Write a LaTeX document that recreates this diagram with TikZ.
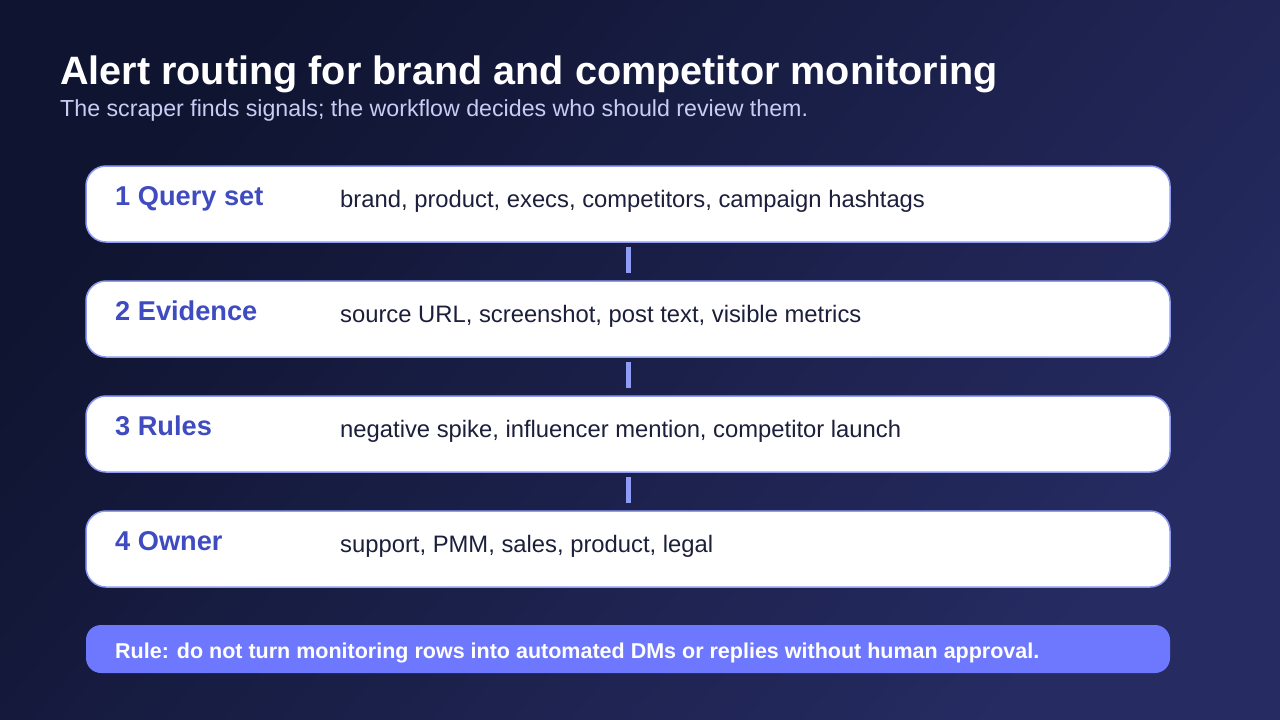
\documentclass[tikz,border=0pt]{standalone}
\usepackage{fontspec}
\setmainfont{Liberation Sans}
\definecolor{bgA}{HTML}{0F1430}
\definecolor{bgB}{HTML}{262B62}
\definecolor{edge}{HTML}{8F9CF5}
\definecolor{lab}{HTML}{3F4BC0}
\definecolor{desc}{HTML}{1B1F3B}
\definecolor{sub}{HTML}{C8CDF5}
\definecolor{rulefill}{HTML}{6E78FF}
\tikzset{
  stagebox/.style={draw=edge, line width=1.5pt, fill=white, rounded corners=20pt},
  stagelab/.style={anchor=base west, text=lab, font=\fontsize{27.2}{32}\selectfont\bfseries, inner sep=0pt},
  stagedesc/.style={anchor=base west, text=desc, font=\fontsize{23.8}{28}\selectfont, inner sep=0pt},
  linkbar/.style={draw=edge, line width=5pt},
}
\begin{document}
\begin{tikzpicture}[x=1pt,y=-1pt]
\useasboundingbox (0,0) rectangle (1280,720);
\shade[top color=bgA, bottom color=bgB, shading angle=50] (0,0) rectangle (1280,720);
\node[anchor=base west, inner sep=0pt, text=white, font=\fontsize{39.6}{48}\selectfont\bfseries] (title) at (60,84) {Alert routing for brand and competitor monitoring};
\node[anchor=base west, inner sep=0pt, text=sub, font=\fontsize{23.2}{28}\selectfont] (subtitle) at (60,116) {The scraper finds signals; the workflow decides who should review them.};
\foreach \i/\y/\l/\d in {1/166/1 Query set/{brand, product, execs, competitors, campaign hashtags},
                        2/281/2 Evidence/{source URL, screenshot, post text, visible metrics},
                        3/396/3 Rules/{negative spike, influencer mention, competitor launch},
                        4/511/4 Owner/{support, PMM, sales, product, legal}}{
  \draw[stagebox] (86,\y) rectangle (1170,\y+76);
  \coordinate (top\i) at (628,\y);
  \coordinate (bot\i) at (628,\y+76);
  \node[stagelab] (lab\i) at (115,\y+39) {\l};
  \node[stagedesc] (desc\i) at (340,\y+41) {\d};
}
\draw[linkbar] ([yshift=-5pt]bot1) -- ([yshift=8pt]top2);
\draw[linkbar] ([yshift=-5pt]bot2) -- ([yshift=8pt]top3);
\draw[linkbar] ([yshift=-5pt]bot3) -- ([yshift=8pt]top4);
\fill[rulefill, rounded corners=15pt] (86,625) rectangle (1170,673);
\node[anchor=base west, inner sep=0pt, text=white, font=\fontsize{21.5}{26}\selectfont\bfseries] (rule) at (115,658) {Rule: do not turn monitoring rows into automated DMs or replies without human approval.};
\end{tikzpicture}
\end{document}
